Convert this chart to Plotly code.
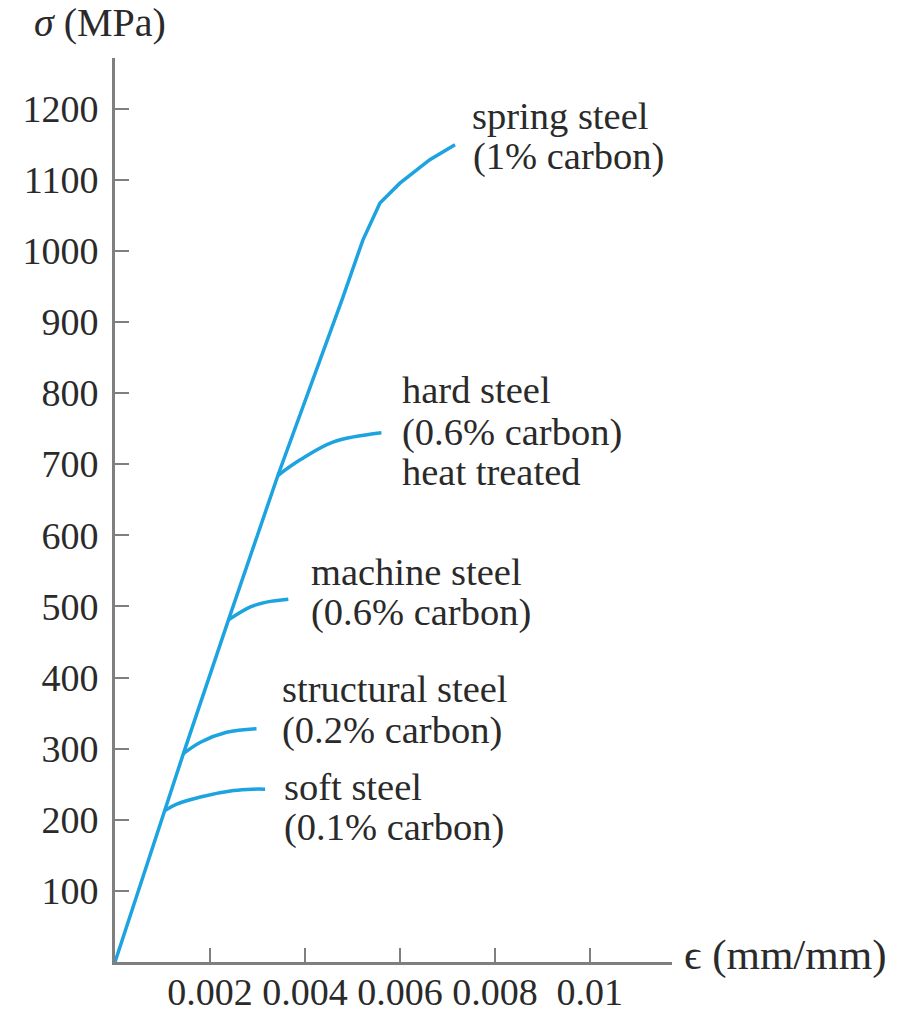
import plotly.graph_objects as go

# Main elastic line + spring steel (1% carbon)
main_eps = [0, 0.00105, 0.00144, 0.00239, 0.00343, 0.00478, 0.00522, 0.00558, 0.0060, 0.00663, 0.00716]
main_sig = [0, 213, 293, 481, 684, 931, 1015, 1067, 1095, 1128, 1149]

soft_eps = [0.00105, 0.0013, 0.0018, 0.0025, 0.0029, 0.00316]
soft_sig = [213, 222, 232, 241, 243, 243]

struct_eps = [0.00144, 0.0018, 0.00235, 0.00298]
struct_sig = [293, 309, 323, 328]

machine_eps = [0.00239, 0.00284, 0.00319, 0.00365]
machine_sig = [481, 499, 506, 510]

hard_eps = [0.00343, 0.0039, 0.00459, 0.00561]
hard_sig = [684, 706, 731, 744]

x_ticks = [0.002, 0.004, 0.006, 0.008, 0.01]
x_ticktext = ["0.002", "0.004", "0.006", "0.008", "0.01"]
y_ticks = [100, 200, 300, 400, 500, 600, 700, 800, 900, 1000, 1100, 1200]

# label lines: text, strain at left edge, stress at line centre
label_lines = [
    ("spring steel", 0.00749, 1189),
    ("(1% carbon)", 0.00751, 1133),
    ("hard steel", 0.00602, 804),
    ("(0.6% carbon)", 0.00602, 745),
    ("heat treated", 0.00602, 689),
    ("machine steel", 0.0041, 548),
    ("(0.6% carbon)", 0.0041, 492),
    ("structural steel", 0.00349, 384),
    ("(0.2% carbon)", 0.00349, 326),
    ("soft steel", 0.00354, 246),
    ("(0.1% carbon)", 0.00354, 189),
]

LINE = "#1ca3e0"
AX = "#7f7f7f"
TXT = "#2a2a2a"
FONT = "Liberation Serif"
FS = 38.5
TFS = 38

fig = go.Figure()
for ex, sy, shape in [(main_eps, main_sig, "linear"), (soft_eps, soft_sig, "spline"),
                      (struct_eps, struct_sig, "spline"), (machine_eps, machine_sig, "spline"),
                      (hard_eps, hard_sig, "spline")]:
    fig.add_trace(go.Scatter(x=ex, y=sy, mode="lines",
                             line=dict(color=LINE, width=3.5, shape=shape),
                             showlegend=False, hoverinfo="skip"))

for text, x, y in label_lines:
    fig.add_annotation(x=x, y=y, xref="x", yref="y", text=text, showarrow=False,
                       xanchor="left", yanchor="middle", align="left", borderpad=0,
                       font=dict(family=FONT, size=FS, color=TXT))

fig.add_annotation(x=-0.027, y=1.0398, xref="paper", yref="paper",
                   text="<i>σ</i> (MPa)", showarrow=False, xanchor="center", yanchor="middle",
                   borderpad=0, font=dict(family=FONT, size=40, color=TXT))
fig.add_annotation(x=1.0197, y=0.0072, xref="paper", yref="paper",
                   text="ϵ (mm/mm)", showarrow=False, xanchor="left", yanchor="middle",
                   borderpad=0, font=dict(family=FONT, size=43, color=TXT))

fig.update_xaxes(range=[0, 0.01173], showline=True, linecolor=AX, linewidth=3,
                 ticks="inside", ticklen=14, tickwidth=2, tickcolor=AX,
                 tickvals=x_ticks, ticktext=x_ticktext, showgrid=False, zeroline=False,
                 ticklabelstandoff=-6, automargin=False,
                 tickfont=dict(family=FONT, size=TFS, color=TXT))
fig.update_yaxes(range=[0, 1271], showline=True, linecolor=AX, linewidth=3,
                 ticks="inside", ticklen=14, tickwidth=2, tickcolor=AX,
                 tickvals=y_ticks, showgrid=False, zeroline=False,
                 ticklabelstandoff=6, automargin=False,
                 tickfont=dict(family=FONT, size=TFS, color=TXT))

fig.update_layout(width=919, height=1014, plot_bgcolor="white", paper_bgcolor="white",
                  margin=dict(l=115, r=247, t=58, b=52))

# remove the default 8px page margin so the figure fills the window exactly; hide the modebar
fig.write_html("out.html", config={"displayModeBar": False},
               post_script="document.body.style.margin='0';")
